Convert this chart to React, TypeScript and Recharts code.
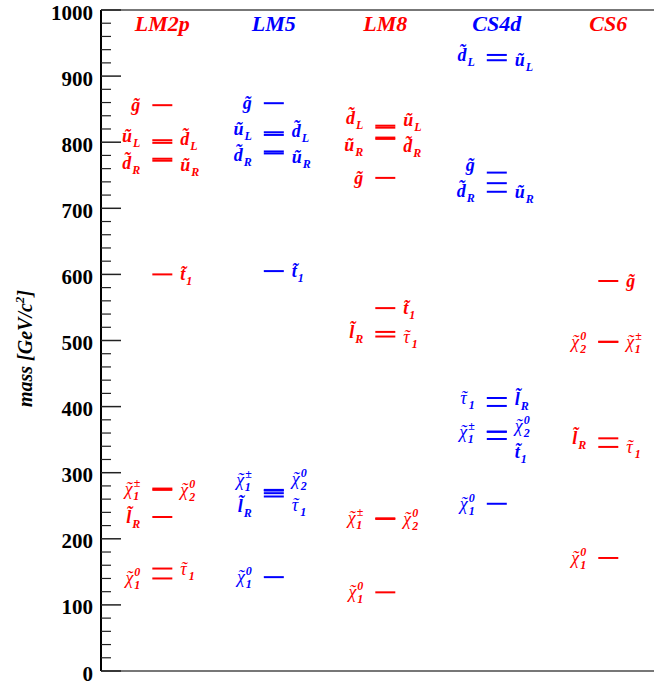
import React from 'react';
import { ScatterChart, Scatter, XAxis, YAxis, CartesianGrid } from 'recharts';

const MODELS = ['LM2p', 'LM5', 'LM8', 'CS4d', 'CS6'];
const MODEL_COLORS = ['#ff0000', '#0000ff', '#ff0000', '#0000ff', '#ff0000'];

const LM2P_MASS = [856, 803, 799, 775, 772, 600, 276, 274, 233, 155, 140];
const LM2P_NAME = ['g', 'uL', 'dL', 'dR', 'uR', 't1', 'C1', 'N2', 'lR', 'tau1', 'N1'];
const LM2P_SIDE = ['L', 'L', 'R', 'L', 'R', 'R', 'L', 'R', 'L', 'R', 'L'];

const LM5_MASS = [859, 815, 811, 786, 783, 605, 274, 273, 269, 264, 142];
const LM5_NAME = ['g', 'uL', 'dL', 'dR', 'uR', 't1', 'C1', 'N2', 'tau1', 'lR', 'N1'];
const LM5_SIDE = ['L', 'L', 'R', 'L', 'R', 'R', 'L', 'R', 'R', 'L', 'L'];

const LM8_MASS = [825, 822, 807, 805, 746, 549, 513, 506, 231, 230, 119];
const LM8_NAME = ['dL', 'uL', 'uR', 'dR', 'g', 't1', 'lR', 'tau1', 'C1', 'N2', 'N1'];
const LM8_SIDE = ['L', 'R', 'L', 'R', 'L', 'R', 'L', 'R', 'L', 'R', 'L'];

const CS4D_MASS = [932, 924, 754, 738, 725, 413, 401, 362, 362, 351, 253];
const CS4D_NAME = ['dL', 'uL', 'g', 'dR', 'uR', 'tau1', 'lR', 'C1', 'N2', 't1', 'N1'];
const CS4D_SIDE = ['L', 'R', 'L', 'L', 'R', 'L', 'R', 'L', 'R', 'R', 'L'];

const CS6_MASS = [590, 498, 498, 352, 339, 171];
const CS6_NAME = ['g', 'N2', 'C1', 'lR', 'tau1', 'N1'];
const CS6_SIDE = ['R', 'L', 'R', 'L', 'R', 'L'];

const MASS_TICKS = Array.from({ length: 51 }, (_, i) => i * 20);

// base letter, subscript, superscript, greek?
const SYMBOLS: Record<string, [string, string, string, boolean]> = {
  g: ['g', '', '', false],
  uL: ['u', 'L', '', false],
  dL: ['d', 'L', '', false],
  uR: ['u', 'R', '', false],
  dR: ['d', 'R', '', false],
  t1: ['t', '1', '', false],
  lR: ['l', 'R', '', false],
  tau1: ['\u03c4', '1', '', true],
  N1: ['\u03c7', '1', '0', true],
  N2: ['\u03c7', '2', '0', true],
  C1: ['\u03c7', '1', '\u00b1', true],
};

const SERIES = [
  [LM2P_MASS, LM2P_NAME, LM2P_SIDE],
  [LM5_MASS, LM5_NAME, LM5_SIDE],
  [LM8_MASS, LM8_NAME, LM8_SIDE],
  [CS4D_MASS, CS4D_NAME, CS4D_SIDE],
  [CS6_MASS, CS6_NAME, CS6_SIDE],
] as const;

const LABEL_GAP = 40; // GeV between stacked labels

// push overlapping labels apart around their mean mass
function spreadLabels(masses: number[], gap: number): number[] {
  const order = masses.map((_, i) => i).sort((a, b) => masses[b] - masses[a]);
  const groups: { idx: number[]; center: number }[] = [];
  for (const i of order) {
    groups.push({ idx: [i], center: masses[i] });
    while (groups.length > 1) {
      const lo = groups[groups.length - 1];
      const hi = groups[groups.length - 2];
      const hiBottom = hi.center - ((hi.idx.length - 1) * gap) / 2;
      const loTop = lo.center + ((lo.idx.length - 1) * gap) / 2;
      if (hiBottom - loTop >= gap) break;
      const idx = [...hi.idx, ...lo.idx];
      const center = idx.reduce((s, k) => s + masses[k], 0) / idx.length;
      groups.splice(groups.length - 2, 2, { idx, center });
    }
  }
  const out = masses.slice();
  groups.forEach((g) =>
    g.idx.forEach((k, j) => {
      out[k] = g.center + ((g.idx.length - 1) / 2 - j) * gap;
    })
  );
  return out;
}

const levels: any[] = [];
const labels: any[] = [];
SERIES.forEach(([mass, name, side], i) => {
  const color = MODEL_COLORS[i];
  mass.forEach((m) => levels.push({ x: i + 1, y: m, color }));
  (['L', 'R'] as const).forEach((s) => {
    const idx = mass.map((_, j) => j).filter((j) => side[j] === s);
    const pos = spreadLabels(idx.map((j) => mass[j]), LABEL_GAP);
    idx.forEach((j, k) => labels.push({ x: i + 1, y: pos[k], name: name[j], side: s, color }));
  });
});

const FONT = '"Liberation Serif", "Times New Roman", serif';

const ParticleText = ({ x, y, anchor, name, color }: any) => {
  const [base, sub, sup, greek] = SYMBOLS[name];
  // greek letters get a hand placed tilde, latin ones a combining one
  const bw = base === '\u03c7' ? 10 : 8;
  const tw = 6;
  const back = greek ? bw / 2 - tw / 2 : 0;
  return (
    <text x={x} y={y} textAnchor={anchor} fill={color} fontFamily={FONT} fontStyle="italic" fontWeight="bold" fontSize={18}>
      {greek ? (
        <>
          <tspan fontWeight="normal">{base}</tspan>
          <tspan fontWeight="normal" dx={-(bw / 2 + tw / 2) + 1}>
            {'\u02dc'}
          </tspan>
        </>
      ) : (
        <tspan>{base + '\u0303'}</tspan>
      )}
      {sup && (
        <tspan fontSize={12} dx={back} dy={-8}>
          {sup}
        </tspan>
      )}
      {sub && (
        <tspan fontSize={12} dx={sup ? (sup === '0' ? -6 : -7) : back + 1} dy={sup ? 13 : 5}>
          {sub}
        </tspan>
      )}
    </text>
  );
};

const LevelMark = (props: any) => {
  const { cx, cy, payload } = props;
  return <line x1={cx - 10} x2={cx + 10} y1={cy} y2={cy} stroke={payload.color} strokeWidth={2} />;
};

const LevelLabel = (props: any) => {
  const { cx, cy, payload } = props;
  const right = payload.side === 'R';
  return (
    <ParticleText
      x={right ? cx + 18 : cx - 22}
      y={cy + 6}
      anchor={right ? 'start' : 'end'}
      name={payload.name}
      color={payload.color}
    />
  );
};

const MassTick = (props: any) => {
  const { x, y, payload } = props;
  const major = payload.value % 100 === 0;
  const ax = x + 8;
  return (
    <g>
      <line x1={ax} x2={ax + (major ? 20 : 10)} y1={y} y2={y} stroke="#222" strokeWidth={major ? 1.5 : 1.2} />
      {major && (
        <text x={x} y={y + 9.5} textAnchor="end" fontFamily={FONT} fontWeight="bold" fontSize={21} fill="#000">
          {payload.value}
        </text>
      )}
    </g>
  );
};

const ModelTick = (props: any) => {
  const { x, y, payload } = props;
  const i = payload.value - 1;
  return (
    <text x={x} y={y + 21} textAnchor="middle" fontFamily={FONT} fontStyle="italic" fontWeight="bold" fontSize={22} fill={MODEL_COLORS[i]}>
      {MODELS[i]}
    </text>
  );
};

const MassLabel = (props: any) => {
  const { viewBox } = props;
  const cx = viewBox.x + 32;
  const cy = viewBox.y + viewBox.height / 2 + 8;
  return (
    <text x={cx} y={cy} transform={`rotate(-90 ${cx} ${cy})`} textAnchor="middle" fontFamily={FONT} fontStyle="italic" fontWeight="bold" fontSize={20} fill="#000">
      mass [GeV/c
      <tspan fontSize={13} dy={-8}>
        2
      </tspan>
      <tspan dy={8}>]</tspan>
    </text>
  );
};

export default function App() {
  return (
    <div style={{ position: 'absolute', left: 0, top: 0, background: '#fff' }}>
      <ScatterChart width={654} height={684} margin={{ top: 9, right: 0, bottom: 13, left: 0 }}>
        <CartesianGrid
          vertical={false}
          stroke="#777"
          strokeWidth={2}
          horizontalCoordinatesGenerator={({ offset }: any) => [offset.top, offset.top + offset.height]}
        />
        <XAxis
          xAxisId={0}
          type="number"
          dataKey="x"
          orientation="top"
          height={1}
          domain={[0.45, 5.41]}
          ticks={[1, 2, 3, 4, 5]}
          interval={0}
          axisLine={false}
          tickLine={false}
          tickSize={0}
          tickMargin={0}
          tick={<ModelTick />}
          allowDataOverflow
        />
        <YAxis
          yAxisId={0}
          type="number"
          dataKey="y"
          width={101}
          domain={[0, 1000]}
          ticks={MASS_TICKS}
          interval={0}
          tickLine={false}
          tickSize={0}
          tickMargin={8}
          axisLine={{ stroke: '#000', strokeWidth: 2 }}
          tick={<MassTick />}
          label={{ content: <MassLabel /> }}
          allowDataOverflow
        />
        <Scatter data={levels} shape={<LevelMark />} isAnimationActive={false} />
        <Scatter data={labels} shape={<LevelLabel />} isAnimationActive={false} />
      </ScatterChart>
    </div>
  );
}
